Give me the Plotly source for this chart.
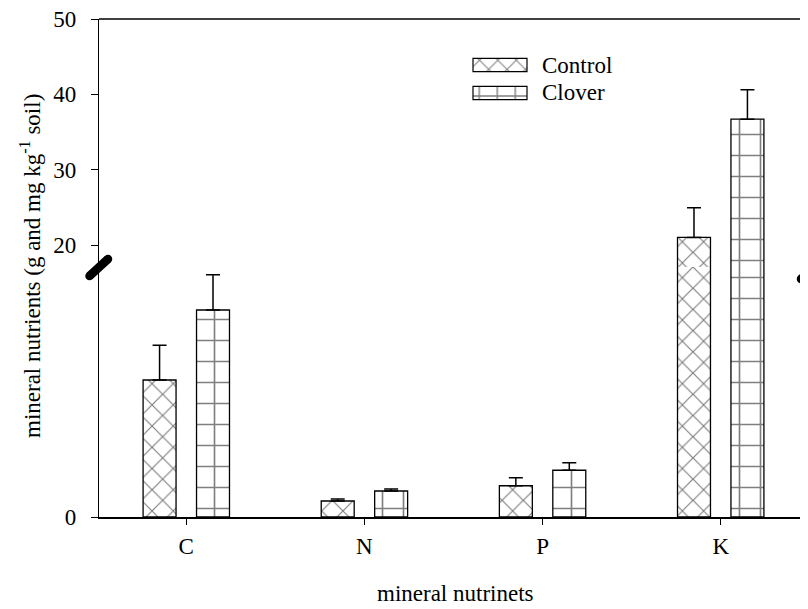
import plotly.graph_objects as go

# ---------------- data ----------------
categories = ["C", "N", "P", "K"]
series_names = ["Control", "Clover"]
control = [10.96, 1.28, 2.50, 21.0]
control_err = [2.78, 0.16, 0.64, 3.95]
clover = [16.56, 2.08, 3.74, 36.7]
clover_err = [2.82, 0.16, 0.60, 3.9]
lower_range = [0, 20]
upper_range = [17.08, 50]
lower_ticks = [0]
upper_ticks = [20, 30, 40, 50]

# ---------------- layout helpers ----------------
# the page body has an 8px margin, so the figure is laid out 8px smaller
OFF = 8
W, H = 808 - OFF, 609 - OFF
PL, PT, PBOT, PR = 99, 19, 517, 808   # plot-area edges in page pixels
ML, MT = PL - OFF, PT - OFF
MR = 0
PW = PR - PL
PH = PBOT - PT
MB = H - MT - PH
SPLIT = 250 / PH  # fraction of plot height for the lower segment

FONT = "Liberation Serif, Times New Roman, serif"


def px(x):
    return (x - PL) / PW


def py(y):
    return (PBOT - y) / PH


idx = list(range(len(categories)))
BAR_W = 0.185
OFFSETS = [-0.2425, 0.0575]
SHAPES = ["x", "+"]
PSIZE = [15, 21]

fig = go.Figure()


def add_bars(xs, ys, errs, k, xa, ya):
    kw = {}
    if errs is not None:
        kw["error_y"] = dict(type="data", symmetric=False, array=errs,
                             arrayminus=[0] * len(errs), color="black",
                             thickness=1.5, width=7)
    fig.add_trace(go.Bar(
        x=xs, y=ys, width=BAR_W, offset=OFFSETS[k], name=series_names[k],
        xaxis=xa, yaxis=ya, showlegend=False,
        marker=dict(color="white", line=dict(color="black", width=1.3),
                    pattern=dict(shape=SHAPES[k], fgcolor="black",
                                 bgcolor="white", size=PSIZE[k],
                                 solidity=0.15)),
        **kw))


vals = [control, clover]
errs = [control_err, clover_err]
for k in range(2):
    # lower segment: C, N, P with error bars, K only as the bar body
    add_bars(idx[:3], vals[k][:3], errs[k][:3], k, "x", "y")
    add_bars(idx[3:], vals[k][3:], None, k, "x", "y")
    # upper segment: K with error bars
    add_bars(idx[3:], vals[k][3:], errs[k][3:], k, "x2", "y2")

# legend swatches drawn as small horizontal bars on a hidden axis
for k, yy in zip(range(2), [1, 0]):
    fig.add_trace(go.Bar(
        x=[1], y=[yy], orientation="h", width=0.48, xaxis="x3", yaxis="y3",
        showlegend=False, hoverinfo="skip",
        marker=dict(color="white", line=dict(color="black", width=1.2),
                    pattern=dict(shape=SHAPES[k], fgcolor="black",
                                 bgcolor="white", size=[13, 18][k],
                                 solidity=0.15))))

axis_common = dict(showgrid=False, zeroline=False, showline=True,
                   linecolor="black", ticks="outside", tickcolor="black",
                   ticklabeloverflow="allow",
                   tickfont=dict(family=FONT, size=23, color="black"))

fig.update_layout(
    width=W, height=H,
    margin=dict(l=ML, r=MR, t=MT, b=MB, pad=0),
    paper_bgcolor="white", plot_bgcolor="white",
    barmode="overlay",
    font=dict(family=FONT, size=23, color="black"),
    xaxis=dict(domain=[0, 1], range=[-0.49, 3.49], tickvals=idx,
               ticktext=categories, ticklen=6, tickwidth=1.3, linewidth=2,
               anchor="y", ticklabelstandoff=1, **axis_common),
    xaxis2=dict(domain=[0, 1], range=[-0.49, 3.49], visible=False,
                anchor="y2", matches="x"),
    yaxis=dict(domain=[0, SPLIT], range=lower_range, tickvals=lower_ticks,
               ticklen=7, tickwidth=1.3, linewidth=1.3, anchor="x",
               ticklabelstandoff=10, **axis_common),
    yaxis2=dict(domain=[SPLIT, 1], range=upper_range, tickvals=upper_ticks,
                ticklen=7, tickwidth=1.3, linewidth=1.3, anchor="x2",
                ticklabelstandoff=10, **axis_common),
    xaxis3=dict(domain=[px(470.3), px(529.7)], range=[-0.05, 1.05],
                visible=False, anchor="y3"),
    yaxis3=dict(domain=[py(107), py(51)], range=[-0.5, 1.5],
                visible=False, anchor="x3"),
)

# top frame line
shapes = [dict(type="line", xref="paper", yref="paper", x0=0, x1=1.01,
               y0=1, y1=1, line=dict(color="black", width=1.3))]


def break_mark(x1, y1, x2, y2, w=8.5):
    r = w / 2
    out = [dict(type="line", xref="paper", yref="paper",
                x0=px(x1), y0=py(y1), x1=px(x2), y1=py(y2),
                line=dict(color="black", width=w))]
    for cx, cy in ((x1, y1), (x2, y2)):
        out.append(dict(type="circle", xref="paper", yref="paper",
                        x0=px(cx - r), x1=px(cx + r),
                        y0=py(cy + r), y1=py(cy - r),
                        fillcolor="black", line=dict(width=0)))
    return out


shapes += break_mark(89.5, 276, 108, 259)
shapes += break_mark(801, 279, 820, 262)
fig.update_layout(shapes=shapes)

annotations = [
    dict(text="mineral nutrinets", xref="paper", yref="paper",
         x=px(455), y=py(593), showarrow=False, xanchor="center",
         yanchor="middle", font=dict(family=FONT, size=23)),
    dict(text="mineral nutrients (g and mg kg<sup>-1</sup> soil)",
         xref="paper", yref="paper", x=px(30), y=py(266), textangle=-90,
         showarrow=False, xanchor="center", yanchor="middle",
         font=dict(family=FONT, size=23)),
]
for name, yc in zip(series_names, [65, 93]):
    annotations.append(dict(text=name, xref="paper", yref="paper",
                            x=px(540), y=py(yc), showarrow=False,
                            xanchor="left", yanchor="middle",
                            font=dict(family=FONT, size=23)))
fig.update_layout(annotations=annotations)

fig.write_html("out.html")
